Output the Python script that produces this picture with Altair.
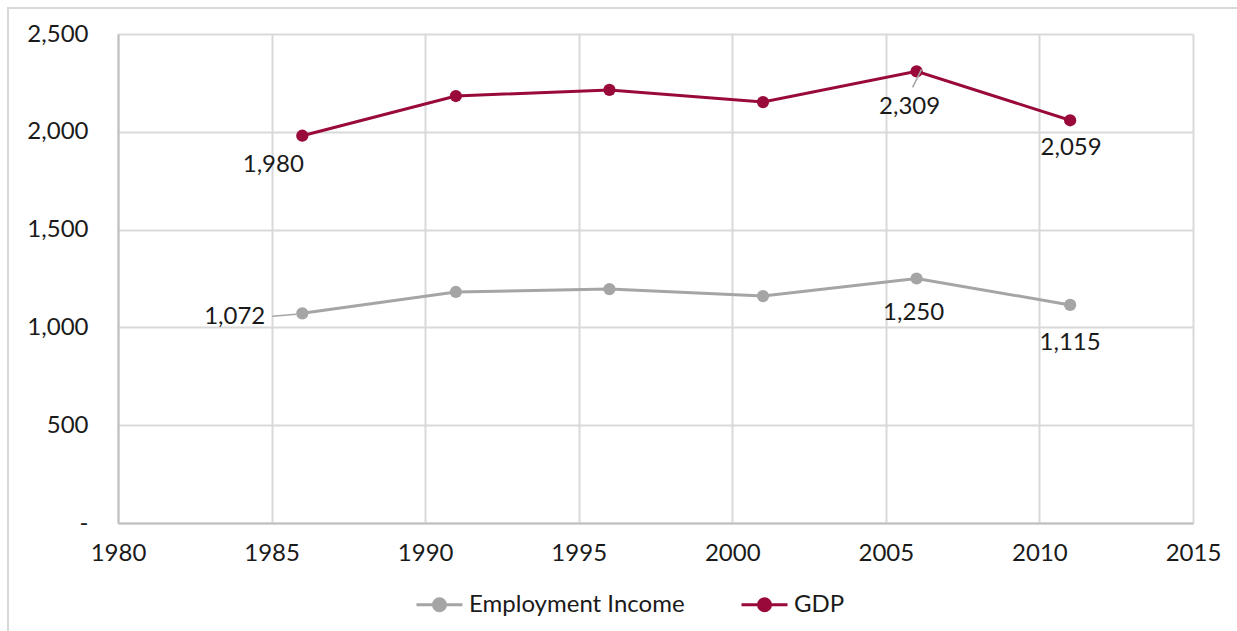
import altair as alt
import pandas as pd

years = [1986, 1991, 1996, 2001, 2006, 2011]
gdp = [1980, 2183, 2214, 2152, 2309, 2059]
employment = [1072, 1181, 1196, 1160, 1250, 1115]
series_names = ["Employment Income", "GDP"]
colors = ["#A5A5A5", "#990A3A"]

rows = []
for y, v in zip(years, employment):
    rows.append({"year": y, "value": v, "series": "Employment Income"})
for y, v in zip(years, gdp):
    rows.append({"year": y, "value": v, "series": "GDP"})
df = pd.DataFrame(rows)

FONT = "Lato"
FS = 24
TXT = "#1a1a1a"

xs = alt.Scale(domain=[1980, 2015], nice=False)
ys = alt.Scale(domain=[0, 2500], nice=False)
color = alt.Color("series:N", scale=alt.Scale(domain=series_names, range=colors),
                  legend=alt.Legend(title=None, orient="none", direction="horizontal",
                                    legendX=297, legendY=546,
                                    symbolType="M-1,0L1,0M-0.26,0a0.26,0.26 0 1,0 0.52,0a0.26,0.26 0 1,0 -0.52,0Z",
                                    symbolSize=2116, symbolStrokeWidth=3,
                                    labelFont=FONT, labelFontSize=FS, labelColor=TXT,
                                    labelLimit=500, columnPadding=50, labelOffset=5,
                                    padding=0))

base = alt.Chart(df)

frame = alt.Chart(pd.DataFrame({"a": [0]})).mark_rect(
    filled=False, stroke="#D9D9D9", strokeWidth=2
).encode(x=alt.value(-110), x2=alt.value(1400), y=alt.value(-26), y2=alt.value(800))

x_enc = alt.X("year:Q", scale=xs, title=None,
              axis=alt.Axis(values=list(range(1980, 2016, 5)), format="d",
                            labelFont=FONT, labelFontSize=FS, labelColor=TXT,
                            labelPadding=18, ticks=False, domainColor="#BFBFBF",
                            domainWidth=2, gridColor="#D9D9D9", gridWidth=2,
                            labelFlush=False))
y_enc = alt.Y("value:Q", scale=ys, title=None,
              axis=alt.Axis(values=list(range(0, 2501, 500)),
                            labelExpr="datum.value == 0 ? '-     ' : format(datum.value, ',')",
                            labelFont=FONT, labelFontSize=FS, labelColor=TXT,
                            labelPadding=30, ticks=False, domainColor="#BFBFBF",
                            domainWidth=2, gridColor="#D9D9D9", gridWidth=2))

lines = base.mark_line(strokeWidth=3).encode(x=x_enc, y=y_enc, color=color)
points = base.mark_point(filled=True, size=150, opacity=1).encode(
    x="year:Q", y="value:Q", color=alt.Color("series:N", legend=None,
                                             scale=alt.Scale(domain=series_names, range=colors)))

def label(series, year, dx, dy, align="center"):
    return base.transform_filter(
        (alt.datum.series == series) & (alt.datum.year == year)
    ).mark_text(font=FONT, fontSize=FS, color=TXT, dx=dx, dy=dy, align=align,
                baseline="middle").encode(
        x="year:Q", y="value:Q", text=alt.Text("value:Q", format=","))

labels = [
    label("GDP", 1986, -29, 29),
    label("GDP", 2006, -7, 36),
    label("GDP", 2011, 1, 28),
    label("Employment Income", 1986, -37, 4, "right"),
    label("Employment Income", 2006, -3, 34),
    label("Employment Income", 2011, 0, 38),
]

leader_gdp = base.transform_filter(
    (alt.datum.series == "GDP") & (alt.datum.year == 2006)
).mark_rule(color="#A5A5A5", strokeWidth=1.5, xOffset=5, yOffset=-2,
            x2Offset=-4, y2Offset=16).encode(
    x="year:Q", y="value:Q", x2="year:Q", y2="value:Q")

leader_emp = base.transform_filter(
    (alt.datum.series == "Employment Income") & (alt.datum.year == 1986)
).mark_rule(color="#A5A5A5", strokeWidth=1.5, xOffset=-30, yOffset=3,
            x2Offset=-6, y2Offset=1).encode(
    x="year:Q", y="value:Q", x2="year:Q", y2="value:Q")

chart = alt.layer(frame, lines, points, leader_gdp, leader_emp, *labels).properties(
    width=1075, height=489,
    padding={"left": 118, "top": 34, "right": 44, "bottom": 108},
    autosize=alt.AutoSizeParams(type="none"),
    background="white",
).configure_view(stroke=None)

chart.save("out.html", embed_options={"renderer": "svg", "actions": False})
